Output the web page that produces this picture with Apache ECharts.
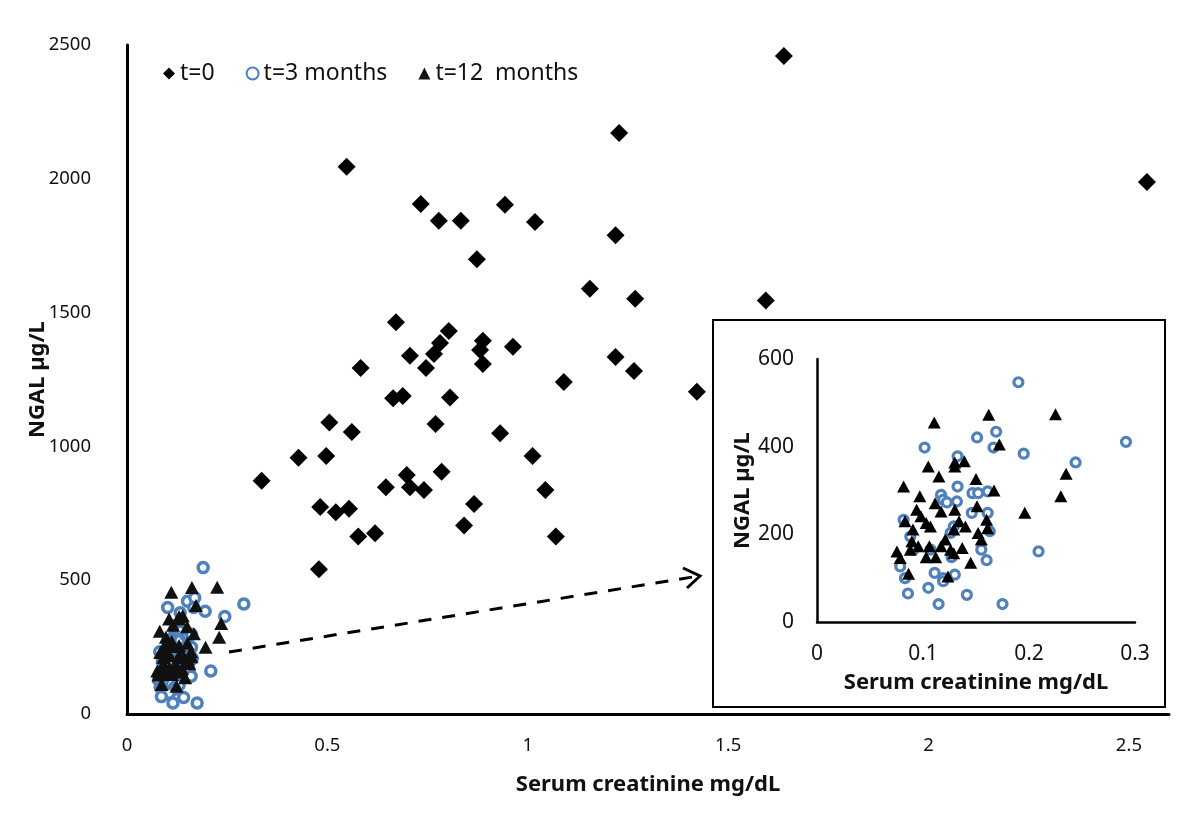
<!DOCTYPE html>
<html>
<head>
<meta charset="utf-8">
<script src="https://cdn.jsdelivr.net/npm/echarts@6/dist/echarts.min.js"></script>
<style>
html,body{margin:0;padding:0;background:#fff;}
#c{width:1200px;height:827px;}
</style>
</head>
<body>
<div id="c"></div>
<script>
// ---- data ----
var seriesNames = ['t=0', 't=3 months', 't=12  months'];
var mainXTicks = [0, 0.5, 1, 1.5, 2, 2.5];
var mainYTicks = [0, 500, 1000, 1500, 2000, 2500];
var insetXTicks = [0, 0.1, 0.2, 0.3];
var insetYTicks = [0, 200, 400, 600];

var t0 = [
  [1.639, 2459], [2.545, 1988], [0.548, 2045], [1.228, 2171], [0.733, 1906],
  [0.778, 1843], [0.833, 1843], [0.943, 1903], [1.018, 1839], [1.219, 1789],
  [0.873, 1699], [1.155, 1589], [1.268, 1552], [1.594, 1545], [0.671, 1464],
  [0.803, 1431], [0.781, 1386], [0.766, 1345], [0.706, 1339], [0.746, 1293],
  [0.888, 1395], [0.881, 1360], [0.888, 1308], [0.963, 1372], [0.583, 1293],
  [1.219, 1334], [1.265, 1282], [1.090, 1241], [1.422, 1204], [0.664, 1180],
  [0.688, 1188], [0.806, 1183], [0.505, 1089], [0.561, 1054], [0.770, 1084],
  [0.931, 1049], [0.428, 958], [0.497, 964], [1.012, 964], [0.336, 872],
  [0.698, 893], [0.785, 905], [0.646, 847], [0.706, 847], [0.741, 837],
  [1.044, 837], [0.866, 785], [0.482, 774], [0.521, 754], [0.554, 767],
  [0.577, 663], [0.619, 675], [0.841, 704], [1.070, 663], [0.479, 541]
];

var t3 = [
  [0.190, 547], [0.2915, 411], [0.1015, 398], [0.151, 421], [0.169, 434],
  [0.1665, 398], [0.195, 384], [0.244, 364], [0.1326, 378], [0.1326, 309],
  [0.117, 290], [0.119, 279], [0.1225, 273], [0.132, 275], [0.1467, 294],
  [0.152, 294], [0.161, 298], [0.146, 249], [0.161, 249], [0.0817, 233],
  [0.163, 207], [0.129, 218], [0.126, 203], [0.107, 165], [0.091, 165],
  [0.088, 195], [0.155, 165], [0.160, 141], [0.127, 148], [0.0785, 127],
  [0.083, 100], [0.111, 112], [0.119, 100], [0.130, 108], [0.119, 93],
  [0.105, 78], [0.0858, 65], [0.1414, 62], [0.1147, 41], [0.175, 41],
  [0.209, 161]
];

var t12 = [
  [0.1106, 455], [0.162, 473], [0.225, 474], [0.172, 405], [0.235, 338],
  [0.230, 287], [0.196, 249], [0.167, 300], [0.150, 326], [0.0817, 309],
  [0.105, 355], [0.115, 332], [0.130, 364], [0.139, 367], [0.130, 355],
  [0.097, 287], [0.1115, 271], [0.117, 252], [0.130, 256], [0.151, 264],
  [0.160, 233], [0.161, 214], [0.152, 203], [0.155, 188], [0.140, 218],
  [0.129, 211], [0.134, 230], [0.0905, 211], [0.083, 230], [0.098, 241],
  [0.103, 226], [0.107, 218], [0.121, 188], [0.117, 173], [0.126, 165],
  [0.137, 169], [0.106, 173], [0.0955, 173], [0.088, 165], [0.0754, 161],
  [0.0785, 146], [0.103, 148], [0.112, 148], [0.145, 135], [0.0864, 110],
  [0.1235, 104], [0.0895, 184], [0.129, 157], [0.094, 256]
];

// ---- chart ----
var FONT = 'Noto Sans';
var BLUE = '#4f81bd';
var chart = echarts.init(document.getElementById('c'), null, {renderer: 'canvas'});

function tickFormatter(ticks) {
  return function (v) {
    for (var i = 0; i < ticks.length; i++) {
      if (Math.abs(ticks[i] - v) < 1e-9) return String(ticks[i]);
    }
    return '';
  };
}

var option = {
  backgroundColor: '#fff',
  animation: false,
  textStyle: {fontFamily: FONT},
  legend: {
    left: 158, top: 57,
    itemWidth: 12, itemHeight: 12, itemGap: 31,
    textStyle: {fontFamily: FONT, fontSize: 23, color: '#111'},
    data: [
      {name: seriesNames[0]},
      {name: seriesNames[1]},
      {name: seriesNames[2]}
    ]
  },
  grid: [
    {left: 127, right: 31, top: 45, bottom: 113},
    {left: 817, right: 65, top: 359, bottom: 205}
  ],
  xAxis: [
    {
      gridIndex: 0, type: 'value', min: 0, max: 2.6, interval: 0.5,
      splitLine: {show: false}, axisTick: {show: false},
      axisLine: {lineStyle: {color: '#000', width: 3}},
      axisLabel: {fontFamily: FONT, fontSize: 18.5, color: '#111', margin: 22,
        formatter: tickFormatter(mainXTicks), showMaxLabel: false},
      name: 'Serum creatinine mg/dL', nameLocation: 'middle', nameGap: 60,
      nameTextStyle: {fontFamily: FONT, fontSize: 22, fontWeight: 'bold', color: '#111'}
    },
    {
      gridIndex: 1, type: 'value', min: 0, max: 0.3, interval: 0.1, z: 10,
      splitLine: {show: false}, axisTick: {show: false},
      axisLine: {lineStyle: {color: '#000', width: 2.5}},
      axisLabel: {fontFamily: FONT, fontSize: 21, color: '#111', margin: 22,
        formatter: tickFormatter(insetXTicks)},
      name: 'Serum creatinine mg/dL', nameLocation: 'middle', nameGap: 50,
      nameTextStyle: {fontFamily: FONT, fontSize: 22, fontWeight: 'bold', color: '#111'}
    }
  ],
  yAxis: [
    {
      gridIndex: 0, type: 'value', min: 0, max: 2500, interval: 500,
      splitLine: {show: false}, axisTick: {show: false},
      axisLine: {show: true, lineStyle: {color: '#000', width: 3}},
      axisLabel: {fontFamily: FONT, fontSize: 18.5, color: '#111', margin: 36,
        formatter: tickFormatter(mainYTicks)},
      name: 'NGAL µg/L', nameLocation: 'middle', nameGap: 78, nameRotate: 90,
      nameMoveOverlap: false,
      nameTextStyle: {fontFamily: FONT, fontSize: 22, fontWeight: 'bold', color: '#111'}
    },
    {
      gridIndex: 1, type: 'value', min: 0, max: 600, interval: 200, z: 10,
      splitLine: {show: false}, axisTick: {show: false},
      axisLine: {show: true, lineStyle: {color: '#000', width: 2.5}},
      axisLabel: {fontFamily: FONT, fontSize: 21, color: '#111', margin: 23,
        formatter: tickFormatter(insetYTicks)},
      name: 'NGAL µg/L', nameLocation: 'middle', nameGap: 60, nameRotate: 90,
      nameTextStyle: {fontFamily: FONT, fontSize: 22, fontWeight: 'bold', color: '#111'}
    }
  ],
  graphic: [
    {
      type: 'rect', z: 1,
      shape: {x: 713, y: 320, width: 452, height: 387},
      style: {fill: '#fff', stroke: '#000', lineWidth: 2}
    },
    {
      type: 'line', z: 1,
      shape: {x1: 229, y1: 652, x2: 699, y2: 576},
      style: {stroke: '#000', lineWidth: 3, lineDash: [13, 11]}
    },
    {
      type: 'polyline', z: 1,
      shape: {points: [[683, 568], [700, 576], [687, 588]]},
      style: {stroke: '#000', lineWidth: 3, fill: null}
    }
  ],
  series: [
    {
      name: seriesNames[0], type: 'scatter', xAxisIndex: 0, yAxisIndex: 0,
      symbol: 'diamond', symbolSize: 18,
      itemStyle: {color: '#000', opacity: 1},
      data: t0, z: 3
    },
    {
      name: seriesNames[1], type: 'scatter', xAxisIndex: 0, yAxisIndex: 0,
      symbol: 'circle', symbolSize: 10,
      itemStyle: {color: '#fff', borderColor: BLUE, borderWidth: 3.5, opacity: 1},
      data: t3, z: 4
    },
    {
      name: seriesNames[2], type: 'scatter', xAxisIndex: 0, yAxisIndex: 0,
      symbol: 'triangle', symbolSize: [14, 13],
      itemStyle: {color: '#111', opacity: 1},
      data: t12, z: 5
    },
    {
      name: 'inset t=3', type: 'scatter', xAxisIndex: 1, yAxisIndex: 1,
      symbol: 'circle', symbolSize: 9,
      itemStyle: {color: '#fff', borderColor: BLUE, borderWidth: 3.2, opacity: 1},
      data: t3, z: 11
    },
    {
      name: 'inset t=12', type: 'scatter', xAxisIndex: 1, yAxisIndex: 1,
      symbol: 'triangle', symbolSize: [13, 12],
      itemStyle: {color: '#000', opacity: 1},
      data: t12, z: 12
    }
  ]
};
chart.setOption(option);
</script>
</body>
</html>
